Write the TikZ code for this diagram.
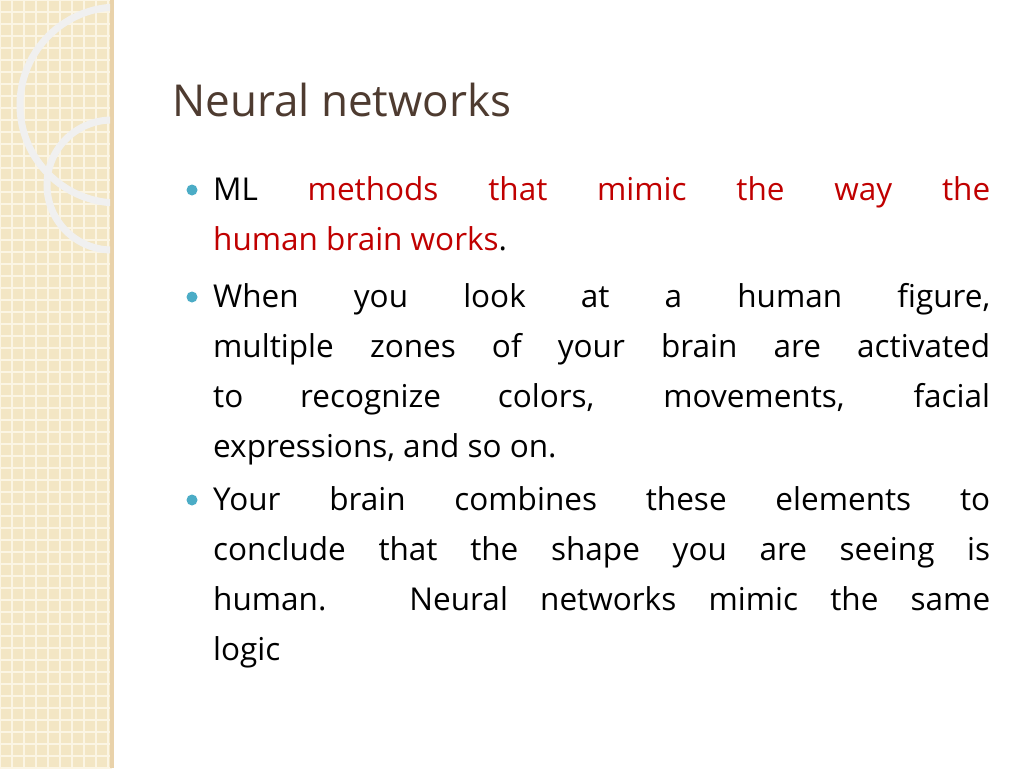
\documentclass[tikz,border=0pt]{standalone}
\usepackage{fontspec}
\setmainfont{Open Sans}
\definecolor{strip}{HTML}{F3E6C4}
\definecolor{gridc}{HTML}{FBF5E4}
\definecolor{titlec}{HTML}{4E3B30}
\definecolor{bul}{HTML}{4BACC6}
\definecolor{redt}{HTML}{C00000}
\newcommand\nohy{\hyphenpenalty=10000\exhyphenpenalty=10000 }
\begin{document}
\begin{tikzpicture}[x=1pt,y=-1pt,
  para/.style={anchor=north west,inner sep=0pt,text width=777pt,align=justify,font=\fontsize{31.5}{50}\selectfont}]
\useasboundingbox (0,0) rectangle (1024,768);
\fill[white] (0,0) rectangle (1024,768);
\fill[strip] (0,0) rectangle (112,768);
\foreach \i in {0,12,...,768} \draw[gridc,line width=1.2pt] (0,\i) -- (112,\i);
\foreach \i in {0,12,...,108} \draw[gridc,line width=1.2pt] (\i,0) -- (\i,768);
\fill[strip!80!brown] (110,0) rectangle (114,768);
\begin{scope}
\clip (0,0) rectangle (110,768);
\draw[white!88!gray,line width=7pt] (118,105) circle (98);
\draw[white!88!gray,line width=7pt] (112,185) circle (65);
\end{scope}
\node[anchor=base west,text=titlec,font=\fontsize{44}{50}\selectfont,inner sep=0pt] (title) at (172,116) {Neural networks};
\fill[bul] (192,190) circle (5.5);
\fill[bul] (192,297) circle (5.5);
\fill[bul] (192,500) circle (5.5);
\node[para] (p1) at (213,176) {\nohy ML \textcolor{redt}{methods that mimic the way the\linebreak human brain works}.};
\node[para] (p2) at (213,283) {\nohy When you look at a human figure,\linebreak multiple zones of your brain are activated\linebreak to recognize colors, movements, facial\linebreak expressions, and so on.};
\node[para] (p3) at (213,486) {\nohy Your brain combines these elements to\linebreak conclude that the shape you are seeing is\linebreak human. Neural networks mimic the same\linebreak logic};
\end{tikzpicture}
\end{document}
